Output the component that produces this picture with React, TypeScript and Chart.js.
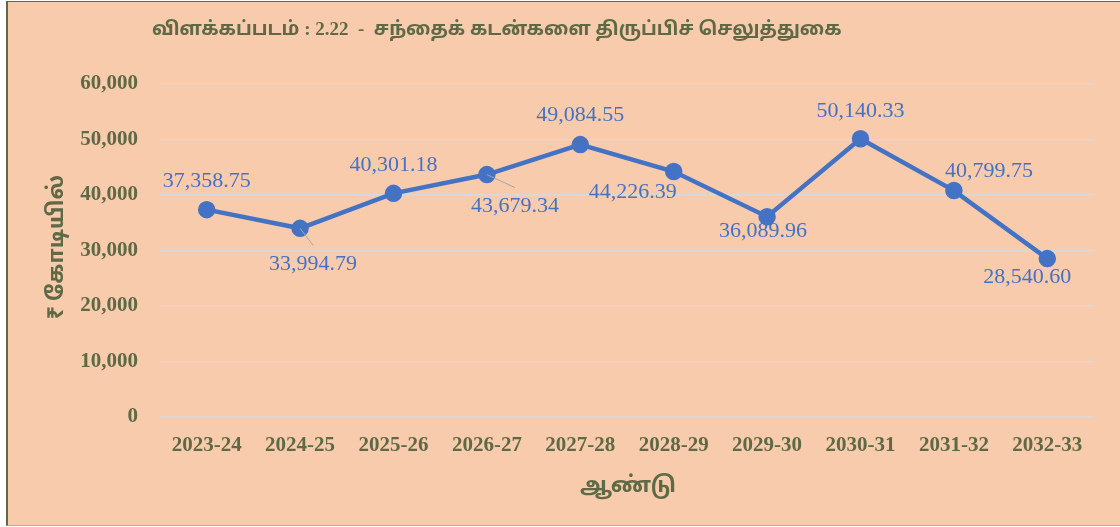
import React, { useEffect, useRef } from "react";
import { Chart, registerables } from "chart.js";

Chart.register(...registerables);

const categories = ["2023-24", "2024-25", "2025-26", "2026-27", "2027-28", "2028-29", "2029-30", "2030-31", "2031-32", "2032-33"];
const repayments = [37358.75, 33994.79, 40301.18, 43679.34, 49084.55, 44226.39, 36089.96, 50140.33, 40799.75, 28540.6];
const yTicks = [0, 10000, 20000, 30000, 40000, 50000, 60000];
const titleText = "விளக்கப்படம் : 2.22  -  சந்தைக் கடன்களை திருப்பிச் செலுத்துகை";
const yTitle = "₹ கோடியில்";
const xTitle = "ஆண்டு";

// label placement relative to the point (pixels), and whether a leader line is drawn
const labelOffsets: [number, number][] = [[0, -28], [13, 36], [0, -28], [28, 32], [0, -29], [-41, 21], [-4, 15], [0, -28], [35, -19], [-20, 19]];
const leaderLines = [false, true, false, true, false, false, false, false, false, false];

const OLIVE = "#5E6A45";
const BLUE = "#4472C4";
const BG = "#F8CBAD";
const SERIF = "'Liberation Serif', 'Times New Roman', serif";
const TAMIL = "'Liberation Serif', 'Noto Sans Tamil', 'Lohit Tamil', 'Noto Sans', sans-serif";

const fmt = (v: number) =>
  v.toLocaleString("en-US", { minimumFractionDigits: 2, maximumFractionDigits: 2 });

const decorPlugin = {
  id: "decor",
  afterDatasetsDraw(chart: any) {
    const ctx = chart.ctx;
    const meta = chart.getDatasetMeta(0);
    ctx.save();
    ctx.font = `22px ${SERIF}`;
    ctx.textAlign = "center";
    ctx.textBaseline = "middle";
    meta.data.forEach((pt: any, i: number) => {
      const [dx, dy] = labelOffsets[i];
      const lx = pt.x + dx;
      const ly = pt.y + dy;
      if (leaderLines[i]) {
        ctx.strokeStyle = "#A6A6A6";
        ctx.lineWidth = 1;
        ctx.beginPath();
        ctx.moveTo(pt.x, pt.y);
        ctx.lineTo(lx, ly - 19);
        ctx.stroke();
      }
      ctx.fillStyle = BLUE;
      ctx.fillText(fmt(repayments[i]), lx, ly);
    });
    ctx.restore();
  },
  afterDraw(chart: any) {
    const ctx = chart.ctx;
    ctx.save();
    ctx.fillStyle = OLIVE;
    ctx.textBaseline = "middle";
    ctx.font = `bold 19px ${TAMIL}`;
    ctx.textAlign = "left";
    ctx.fillText(titleText, 152, 30);
    ctx.font = `bold 22px ${TAMIL}`;
    ctx.textAlign = "center";
    ctx.fillText(xTitle, 628, 486);
    ctx.translate(57, 247);
    ctx.rotate(-Math.PI / 2);
    ctx.font = `bold 22px ${TAMIL}`;
    ctx.fillText(yTitle, 0, 0);
    ctx.restore();
  },
};

export default function App() {
  const ref = useRef<HTMLCanvasElement | null>(null);
  useEffect(() => {
    if (!ref.current) return;
    const chart = new Chart(ref.current, {
      type: "line",
      data: {
        labels: categories,
        datasets: [
          {
            data: repayments,
            borderColor: BLUE,
            backgroundColor: BLUE,
            borderWidth: 4.5,
            pointRadius: 6.5,
            pointHoverRadius: 6.5,
            pointBackgroundColor: BLUE,
            pointBorderColor: BLUE,
            tension: 0,
          },
        ],
      },
      options: {
        animation: false,
        responsive: false,
        events: [],
        layout: { padding: { top: 84, right: 26, left: 0, bottom: 0 } },
        plugins: { legend: { display: false }, tooltip: { enabled: false }, title: { display: false } },
        scales: {
          x: {
            offset: true,
            grid: { display: false, drawTicks: false },
            border: { display: false },
            ticks: { color: OLIVE, font: { family: SERIF, size: 21, weight: "bold" }, padding: 16, maxRotation: 0, autoSkip: false },
            afterFit: (s: any) => { s.height = 110; },
          },
          y: {
            min: 0,
            max: 60000,
            afterBuildTicks: (s: any) => { s.ticks = yTicks.map((v) => ({ value: v })); },
            grid: { color: "#D9D9D9", lineWidth: 1.3, drawTicks: false },
            border: { display: false },
            ticks: {
              color: OLIVE,
              font: { family: SERIF, size: 21, weight: "bold" },
              padding: 22,
              callback: (v: any) => Number(v).toLocaleString("en-US"),
            },
            afterFit: (s: any) => { s.width = 160; },
          },
        },
      },
      plugins: [decorPlugin],
    } as any);
    return () => chart.destroy();
  }, []);

  return (
    <div style={{ position: "fixed", left: 0, top: 0, width: 1120, height: 527, background: "#fff", overflow: "hidden" }}>
      <div
        style={{
          position: "absolute",
          left: 6,
          top: 1,
          width: 1114,
          height: 525,
          background: BG,
          borderLeft: `2px solid ${OLIVE}`,
          borderTop: `1px solid ${OLIVE}`,
          borderBottom: "1px solid #C9A890",
          boxSizing: "border-box",
        }}
      />
      <canvas ref={ref} width={1120} height={527} style={{ position: "absolute", left: 0, top: 0, width: 1120, height: 527 }} />
    </div>
  );
}
